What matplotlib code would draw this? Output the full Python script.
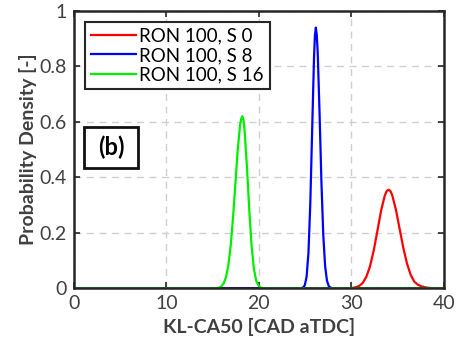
import matplotlib
matplotlib.use("Agg")
from matplotlib import pyplot as plt
from matplotlib.patches import Rectangle

plt.rcParams['font.family'] = ['Lato', 'DejaVu Sans']

# 曲线数据
labels = ["RON 100, S 0", "RON 100, S 8", "RON 100, S 16"]
colors = ["#ff0000", "#0000ff", "#00ee00"]

red_x = [0, 30.0, 30.4, 30.8, 31.2, 31.6, 32.0, 32.4, 32.8, 33.2, 33.6, 33.8, 34.0, 34.2,
         34.4, 34.8, 35.2, 35.6, 36.0, 36.4, 36.8, 37.2, 37.6, 38.0, 38.4, 38.8, 40]
red_y = [0, 0, 0.003, 0.007, 0.018, 0.040, 0.078, 0.135, 0.206, 0.279, 0.334, 0.350, 0.355, 0.351,
         0.336, 0.284, 0.215, 0.146, 0.089, 0.048, 0.023, 0.012, 0.006, 0.003, 0.001, 0, 0]

blue_x = [0, 24.55, 24.75, 24.95, 25.15, 25.35, 25.55, 25.75, 25.95, 26.05, 26.15,
          26.25, 26.35, 26.55, 26.75, 26.95, 27.15, 27.35, 27.55, 27.75, 27.95, 40]
blue_y = [0, 0, 0.002, 0.010, 0.041, 0.127, 0.305, 0.570, 0.829, 0.911, 0.94,
          0.914, 0.851, 0.633, 0.386, 0.194, 0.080, 0.027, 0.007, 0.002, 0, 0]

green_x = [0, 15.45, 15.7, 15.95, 16.2, 16.45, 16.7, 16.95, 17.2, 17.45, 17.7, 17.95, 18.08,
           18.2, 18.33, 18.45, 18.7, 18.95, 19.2, 19.45, 19.7, 19.95, 20.2, 20.45, 40]
green_y = [0, 0, 0.002, 0.007, 0.018, 0.041, 0.084, 0.155, 0.255, 0.376, 0.497, 0.586, 0.611,
           0.62, 0.607, 0.568, 0.438, 0.284, 0.155, 0.071, 0.027, 0.009, 0.002, 0, 0]

x_ticks = [0, 10, 20, 30, 40]
y_ticks = [0, 0.2, 0.4, 0.6, 0.8, 1]
y_ticklabels = ["0", "0.2", "0.4", "0.6", "0.8", "1"]

fig = plt.figure(figsize=(4.62, 3.54), dpi=100)
ax = fig.add_axes([0.160, 0.186, 0.801, 0.783])

for xs, ys, c, lab in zip([red_x, blue_x, green_x], [red_y, blue_y, green_y], colors, labels):
    ax.plot(xs, ys, color=c, lw=1.6, label=lab)

ax.set_xlim(0, 40)
ax.set_ylim(0, 1)
ax.set_xticks(x_ticks)
ax.set_yticks(y_ticks)
ax.set_yticklabels(y_ticklabels)
ax.grid(True, ls=(0, (5, 4)), color="#d0d0d0", lw=1.0)
ax.set_axisbelow(True)

ax.tick_params(direction="in", top=True, right=True, length=4, width=1.2,
               labelsize=14, labelcolor="#404040", color="#262626", pad=5)
for s in ax.spines.values():
    s.set_linewidth(1.8)
    s.set_color("#262626")

ax.set_xlabel("KL-CA50 [CAD aTDC]", fontsize=14, fontweight="bold", color="#404040", labelpad=4)
ax.set_ylabel("Probability Density [-]", fontsize=14, fontweight="bold", color="#404040", labelpad=2)

leg = ax.legend(loc="upper left", bbox_to_anchor=(0.030, 0.960), fontsize=13.5,
                frameon=True, fancybox=False, handlelength=2.4, handletextpad=0.2,
                labelspacing=0.12, borderpad=0.3, borderaxespad=0)
leg.get_frame().set_edgecolor("#262626")
leg.get_frame().set_linewidth(1.5)
leg.get_frame().set_alpha(1)

# (b) 标注框
ax.add_patch(Rectangle((0.027, 0.433), 0.146, 0.148, transform=ax.transAxes,
                       fc="white", ec="#111111", lw=2.0, zorder=5))
ax.text(0.100, 0.507, "(b)", transform=ax.transAxes, fontsize=17, fontweight="bold",
        ha="center", va="center", zorder=6)

fig.savefig("out.png", dpi=100)
